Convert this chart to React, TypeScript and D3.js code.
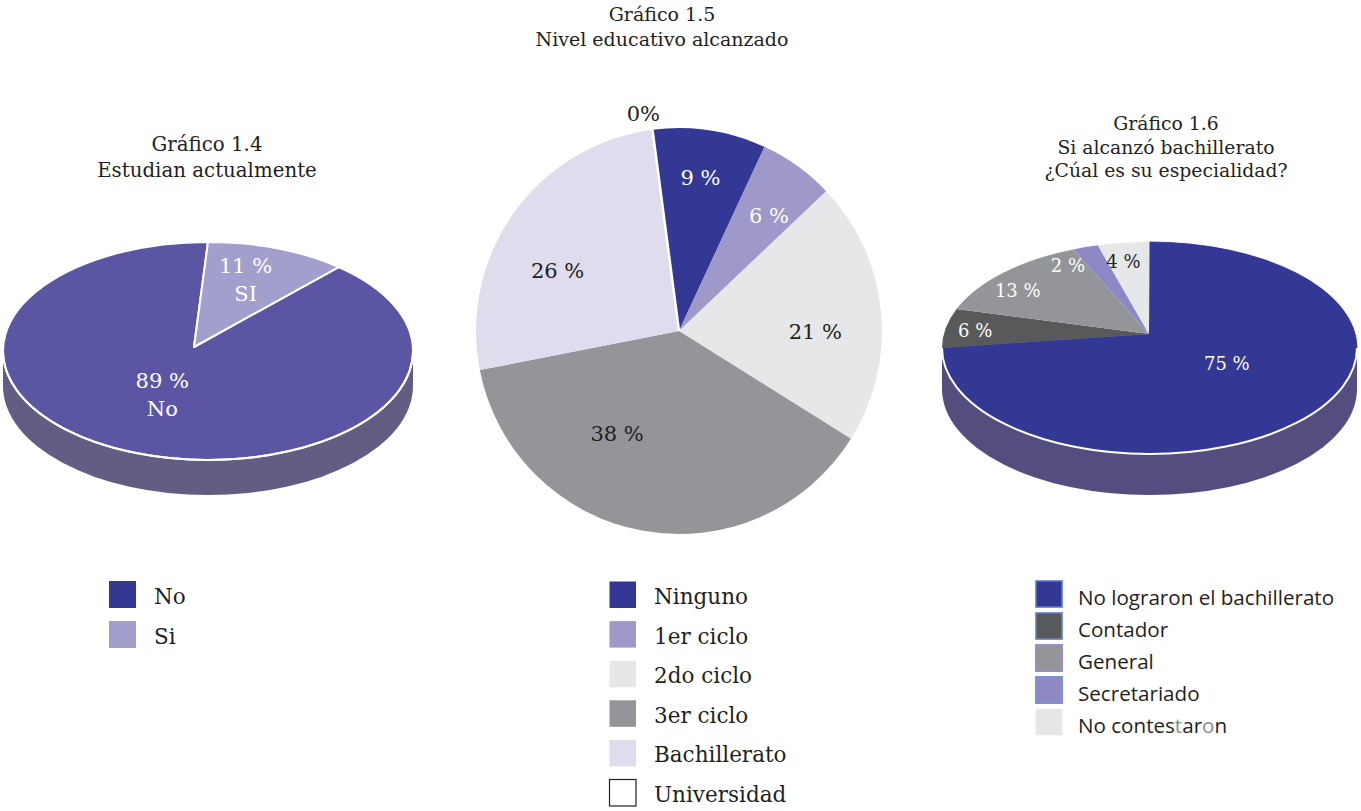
import React from 'react';
import * as d3 from 'd3';

// ---------- DATA ----------
const studyLabels = ['No', 'Si'];
const studyValues = [89, 11];
const studySliceText = [['89 %', 'No'], ['11 %', 'SI']];

const eduLabels = ['Ninguno', '1er ciclo', '2do ciclo', '3er ciclo', 'Bachillerato', 'Universidad'];
const eduValues = [9, 6, 21, 38, 26, 0];
const eduSliceText = ['9 %', '6 %', '21 %', '38 %', '26 %', '0%'];

const specLabels = ['No lograron el bachillerato', 'Contador', 'General', 'Secretariado', 'No contestaron'];
const specValues = [75, 6, 13, 2, 4];
const specSliceText = ['75 %', '6 %', '13 %', '2 %', '4 %'];

// ---------- STYLE / LAYOUT ----------
const TEXT = '#231f20';
const SERIF = "'DejaVu Serif', serif";
const SANS = "'Open Sans', sans-serif";

const studyTop = ['#5a56a3', '#a39fcd'];
const studyLegend = ['#333895', '#a39fcd'];
const studyTextColor = ['#ffffff', '#ffffff'];
const studyK = [0.5, 0.7];
const studyNudge = [[-11, -8], [-11, 0]];

const eduColors = ['#333895', '#9e99c9', '#e6e7e8', '#939598', '#dfdcee', '#ffffff'];
const eduTextColor = ['#ffffff', '#ffffff', TEXT, TEXT, TEXT, TEXT];
const eduNudge = [[0, -13], [7, 0], [-5, 15], [-36, -37], [-6, 22], [-7, 0]];

const specColors = ['#333895', '#58595b', '#939598', '#8e89c4', '#e6e7e8'];
const specStroke = ['#7b96d8', '#7b96d8', '#9b8fd0', '#7b96d8', 'none'];
const specTextColor = ['#ffffff', '#ffffff', '#ffffff', '#ffffff', TEXT];
const specK = [0.5, 0.85, 0.85, 0.85, 0.85];
const specNudge = [[4, -22], [-1, -1], [-7, 6], [-27, 3], [-4, 3]];

const W = 1361, H = 811;

function ep(cx: number, cy: number, rx: number, ry: number, a: number): [number, number] {
  return [cx + rx * Math.sin(a), cy - ry * Math.cos(a)];
}

function ellipseSlice(apex: [number, number], cx: number, cy: number, rx: number, ry: number, a0: number, a1: number) {
  const [x0, y0] = ep(cx, cy, rx, ry, a0);
  const [x1, y1] = ep(cx, cy, rx, ry, a1);
  const large = a1 - a0 > Math.PI ? 1 : 0;
  return `M${apex[0]},${apex[1]}L${x0},${y0}A${rx},${ry} 0 ${large} 1 ${x1},${y1}Z`;
}

function sidePath(cx: number, cy: number, rx: number, ry: number, d: number) {
  return `M${cx - rx},${cy}A${rx},${ry} 0 0 0 ${cx + rx},${cy}L${cx + rx},${cy + d}A${rx},${ry} 0 0 1 ${cx - rx},${cy + d}Z`;
}
function rimPath(cx: number, cy: number, rx: number, ry: number) {
  return `M${cx - rx},${cy}A${rx},${ry} 0 0 0 ${cx + rx},${cy}`;
}

function Pie3D(props: {
  values: number[]; colors: string[]; strokes: string[]; strokeW: number; startFrac: number;
  cx: number; cy: number; rx: number; ry: number; depth: number; apex: [number, number];
  side: string; k: number[]; texts: (string | string[])[]; textColors: string[]; nudges: number[][];
  fontSize: number; lineGap: number;
}) {
  const { values, colors, strokes, strokeW, startFrac, cx, cy, rx, ry, depth, apex, side, k, texts, textColors, nudges, fontSize, lineGap } = props;
  const s0 = startFrac * 2 * Math.PI;
  const arcs = d3.pie<number>().sort(null).startAngle(s0).endAngle(s0 + 2 * Math.PI)(values);
  return (
    <g>
      <path d={sidePath(cx, cy, rx, ry, depth)} fill={side} />
      {arcs.map((a, i) => (
        <path key={i} d={ellipseSlice(apex, cx, cy, rx, ry, a.startAngle, a.endAngle)} fill={colors[i]}
          stroke={strokes[i]} strokeWidth={strokeW} strokeLinejoin="round" />
      ))}
      <path d={rimPath(cx, cy, rx, ry)} fill="none" stroke="#ffffff" strokeWidth={2} />
      {arcs.map((a, i) => {
        const m = (a.startAngle + a.endAngle) / 2;
        const [x, y] = ep(cx, cy, rx * k[i], ry * k[i], m);
        const t = texts[i];
        const lines = Array.isArray(t) ? t : [t];
        const x0 = x + nudges[i][0];
        const y0 = y + nudges[i][1] - ((lines.length - 1) * lineGap) / 2;
        return (
          <text key={'t' + i} x={x0} y={y0} textAnchor="middle" fontFamily={SERIF}
            fontSize={fontSize} fill={textColors[i]}>
            {lines.map((l, j) => (
              <tspan key={j} x={x0} dy={j === 0 ? '0.36em' : lineGap}>{l}</tspan>
            ))}
          </text>
        );
      })}
    </g>
  );
}

function EduPie() {
  const cx = 679, cy = 331, R = 203;
  const start = (-7.5 * Math.PI) / 180;
  const arcs = d3.pie<number>().sort(null).startAngle(start).endAngle(start + 2 * Math.PI)(eduValues);
  const arc = d3.arc<d3.PieArcDatum<number>>().innerRadius(0).outerRadius(R);
  const k = 0.7;
  return (
    <g transform={`translate(${cx},${cy})`}>
      {arcs.map((a, i) => (
        <path key={i} d={arc(a) || ''} fill={eduColors[i]}
          stroke={eduValues[i] === 0 ? '#ffffff' : 'none'} strokeWidth={2.5} />
      ))}
      {arcs.map((a, i) => {
        const m = (a.startAngle + a.endAngle) / 2;
        const r = eduValues[i] === 0 ? R * 1.08 : R * k;
        const x = r * Math.sin(m) + eduNudge[i][0];
        const y = -r * Math.cos(m) + eduNudge[i][1];
        return (
          <text key={'t' + i} x={x} y={y} dy="0.36em" textAnchor="middle" fontFamily={SERIF}
            fontSize={21} fill={eduTextColor[i]}>{eduSliceText[i]}</text>
        );
      })}
    </g>
  );
}

function Title(props: { x: number; y: number; lines: string[]; gap: number; size: number }) {
  return (
    <text textAnchor="middle" fontFamily={SERIF} fontSize={props.size} fill={TEXT}>
      {props.lines.map((l, i) => (
        <tspan key={i} x={props.x} y={props.y + i * props.gap}>{l}</tspan>
      ))}
    </text>
  );
}

export default function App() {
  return (
    <svg width={W} height={H} style={{ position: 'absolute', left: 0, top: 0, background: '#ffffff' }}>
      <rect width={W} height={H} fill="#ffffff" />

      {/* Chart 1.4 */}
      <Title x={207} y={151} lines={['Gráfico 1.4', 'Estudian actualmente']} gap={26} size={19.8} />
      <Pie3D values={studyValues} colors={studyTop} strokes={['#ffffff', '#ffffff']} strokeW={2}
        startFrac={studyValues[1] / d3.sum(studyValues)}
        cx={208} cy={351} rx={205} ry={109} depth={35} apex={[194, 347]} side="#625d83" k={studyK}
        texts={studySliceText} textColors={studyTextColor} nudges={studyNudge} fontSize={21} lineGap={28} />

      {/* Chart 1.5 */}
      <Title x={662} y={21} lines={['Gráfico 1.5', 'Nivel educativo alcanzado']} gap={25} size={19} />
      <EduPie />

      {/* Chart 1.6 */}
      <Title x={1166} y={130} lines={['Gráfico 1.6', 'Si alcanzó bachillerato', '¿Cúal es su especialidad?']} gap={23.5} size={18.8} />
      <Pie3D values={specValues} colors={specColors} strokes={['#2e3192', 'none', 'none', 'none', 'none']} strokeW={0.8}
        startFrac={0}
        cx={1149.5} cy={348} rx={207.5} ry={106} depth={41} apex={[1149, 334]} side="#534e7e" k={specK}
        texts={specSliceText} textColors={specTextColor} nudges={specNudge} fontSize={18} lineGap={24} />

      {/* Legend 1.4 */}
      {studyLabels.map((l, i) => (
        <g key={l} transform={`translate(109,${581 + i * 40})`}>
          <rect width={27} height={27} fill={studyLegend[i]} />
          <text x={45} y={23} fontFamily={SERIF} fontSize={21.5} fill={TEXT}>{l}</text>
        </g>
      ))}

      {/* Legend 1.5 */}
      {eduLabels.map((l, i) => (
        <g key={l} transform={`translate(609,${581 + i * 39.6})`}>
          <rect x={0.5} y={0.5} width={26.5} height={26.5} fill={eduColors[i]}
            stroke={eduValues[i] === 0 ? TEXT : 'none'} strokeWidth={1.2} />
          <text x={45} y={23} fontFamily={SERIF} fontSize={21.5} fill={TEXT}>{l}</text>
        </g>
      ))}

      {/* Legend 1.6 */}
      {specLabels.map((l, i) => (
        <g key={l} transform={`translate(1035,${580 + i * 32})`}>
          <rect x={0.75} y={0.75} width={26.5} height={26.5} fill={specColors[i]}
            stroke={specStroke[i]} strokeWidth={1.5} />
          <text x={43} y={25} fontFamily={SANS} fontSize={20.6} fill={TEXT}>
            {l === 'No contestaron' ? (
              <>
                <tspan>No contes</tspan><tspan fill="#8a8a8a">t</tspan><tspan>ar</tspan><tspan fill="#8a8a8a">o</tspan><tspan>n</tspan>
              </>
            ) : l}
          </text>
        </g>
      ))}
    </svg>
  );
}
